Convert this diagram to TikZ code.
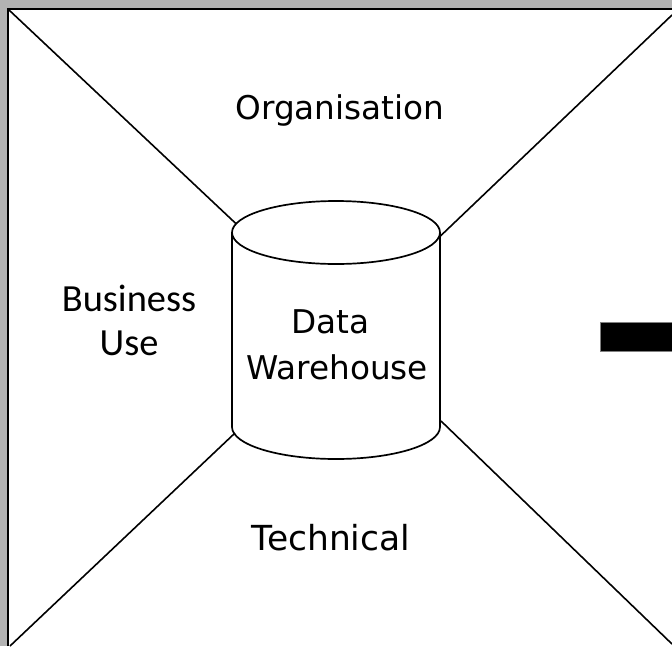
\documentclass[tikz,border=0pt]{standalone}
\usepackage{fontspec}
\setmainfont{DejaVu Sans}
\newfontfamily\sidefont{Carlito}
\usetikzlibrary{positioning,shapes.geometric}
\definecolor{mygrey}{RGB}{179,179,179}
\tikzset{
  label/.style={font=\fontsize{32.7}{46}\selectfont, align=center, inner sep=0pt},
  sidelabel/.style={font=\sidefont\fontsize{38.4}{44}\selectfont, align=center, inner sep=0pt},
  lid/.style={ellipse, draw, line width=1.7pt, minimum width=208pt, minimum height=63pt, inner sep=0pt, outer sep=0pt},
  wall/.style={line width=1.7pt},
  edge/.style={line width=1.6pt},
  frame/.style={line width=2.5pt}
}
\begin{document}
\begin{tikzpicture}[x=1pt,y=-1pt]
  \useasboundingbox (0,0) rectangle (672,646);
  \fill[mygrey] (0,0) rectangle (672,646);
  \fill[white] (8,9) rectangle (672,646);
  \coordinate (BL) at (8,646);
  \coordinate (TL) at (8,9);
  \coordinate (TR) at (672,9);
  \draw[frame] (BL) -- (TL) -- (TR);
  % warehouse in the middle
  \node[lid] (W) at (336,232.5) {};
  \draw[wall] (W.west) -- (232,427) arc (180:0:104 and 32) -- (W.east);
  \node[label] (dw) at (337,345) {Data\hspace*{13pt}\\Warehouse};
  \node[label] (org) at (340,110) {Organisation};
  \node[sidelabel] (bus) at (129,320) {Business\\Use};
  \node[label, font=\fontsize{34.5}{46}\selectfont] (tech) at (331,538) {Technical};
  \node[fill=black, draw=gray, line width=1pt, minimum width=74pt, minimum height=29pt, inner sep=0pt] (bar) at (637,337) {};
  % the four diagonals
  \coordinate (a) at (9,10);
  \coordinate (b) at (672,15);
  \coordinate (c) at (10,646);
  \coordinate (d) at (672,644);
  \coordinate (e) at (235,433);
  \coordinate (f) at (441,421);
  \draw[edge] (a) -- (W.175);
  \draw[edge] (b) -- (W.-3);
  \draw[edge] (c) -- (e);
  \draw[edge] (d) -- (f);
\end{tikzpicture}
\end{document}
